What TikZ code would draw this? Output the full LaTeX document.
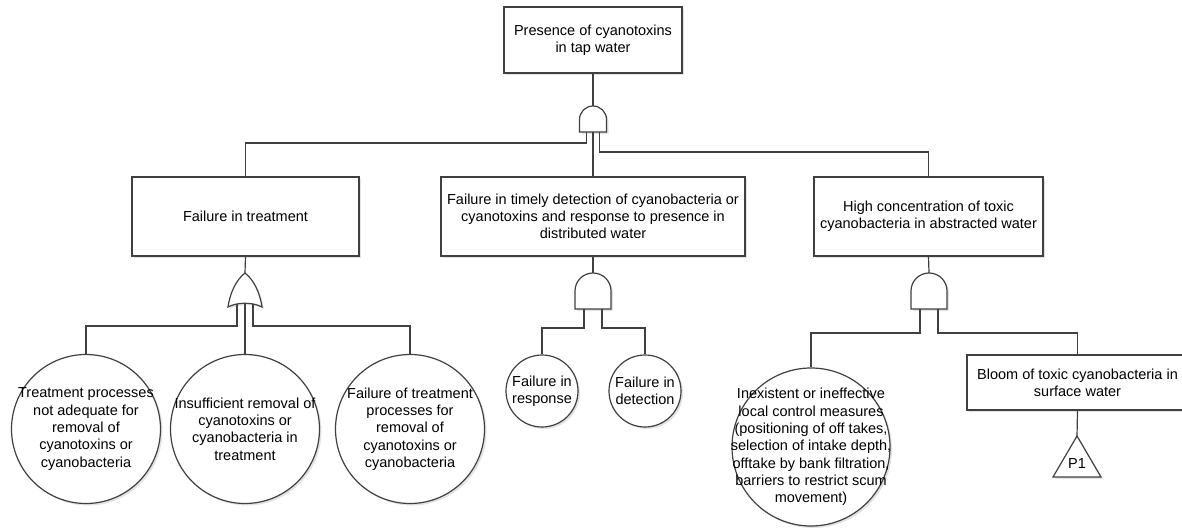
\documentclass[tikz,border=0pt]{standalone}
\usepackage{fontspec}
\setmainfont{Liberation Sans}
\usetikzlibrary{shadows}
\tikzset{
  ink/.style={draw=black!75, line width=1.2pt},
  shade/.style={drop shadow={shadow xshift=2pt, shadow yshift=-2pt, fill=black!18, opacity=0.6}},
  evbox/.style={ink, shade, fill=white, rectangle, inner sep=0pt, align=center,
    font=\fontsize{14.5}{17.3}\selectfont},
  evcircle/.style={ink, shade, fill=white, circle, inner sep=0pt},
  evtext/.style={align=center, inner sep=0pt, font=\fontsize{14.5}{17.3}\selectfont},
  wire/.style={draw=black!75, line width=1.2pt},
  % AND gate: origin at the middle of the flat base; #1 = half width, #2 = straight side height
  pics/andgate/.style 2 args={code={
    \path[ink, shade, fill=white] (-#1,0) -- (-#1,#2) arc[start angle=180, end angle=0, radius=#1 pt] -- (#1,0) -- cycle;
    \coordinate (-out) at (0,#1+#2);
    \coordinate (-l) at (-0.5*#1,0);
    \coordinate (-c) at (0,0);
    \coordinate (-r) at (0.5*#1,0);
  }},
  % OR gate: origin at the middle of the base line through the two corners
  pics/orgate/.style={code={
    \path[ink, shade, fill=white] (-17,0) .. controls (-15,14) and (-9,27) .. (0,34)
      .. controls (9,27) and (15,14) .. (17,0)
      .. controls (8,5) and (-8,5) .. (-17,0) -- cycle;
    \coordinate (-out) at (0,34);
    \coordinate (-l) at (-8,3.4);
    \coordinate (-c) at (0,3.8);
    \coordinate (-r) at (8,3.4);
  }}
}
\begin{document}
\begin{tikzpicture}[x=1pt, y=1pt]
\useasboundingbox (0,0) rectangle (1182,-529);

% top event
\node[evbox, minimum width=178pt, minimum height=66pt] (top) at (593,-40)
  {Presence of cyanotoxins\\in tap water};
\pic (g0) at (593,-132) {andgate={13.5}{12.5}};

% second level events
\node[evbox, minimum width=227pt, minimum height=79pt] (treat) at (245.5,-216.5)
  {Failure in treatment};
\node[evbox, minimum width=304pt, minimum height=79pt] (detect) at (593,-216.5)
  {Failure in timely detection of cyanobacteria or\\cyanotoxins and response to presence in\\distributed water};
\node[evbox, minimum width=229pt, minimum height=79pt] (conc) at (928.5,-216.5)
  {High concentration of toxic\\cyanobacteria in abstracted water};

\pic (g1) at (245,-307) {orgate};
\pic (g2) at (593,-309) {andgate={18}{18}};
\pic (g3) at (929,-309) {andgate={18}{18}};

% basic events under the treatment branch
\node[evcircle, minimum size=149pt] (c1) at (86,-429) {};
\node[evtext] (c1t) at (c1) {Treatment processes\\not adequate for\\removal of\\cyanotoxins or\\cyanobacteria};
\node[evcircle, minimum size=149pt] (c2) at (245,-429) {};
\node[evtext] (c2t) at (c2) {Insufficient removal of\\cyanotoxins or\\cyanobacteria in\\treatment};
\node[evcircle, minimum size=149pt] (c3) at (410,-429) {};
\node[evtext] (c3t) at (c3) {Failure of treatment\\processes for\\removal of\\cyanotoxins or\\cyanobacteria};

% basic events under the detection branch
\node[evcircle, minimum size=72pt] (c4) at (542,-391) {};
\node[evtext] (c4t) at (c4) {Failure in\\response};
\node[evcircle, minimum size=72pt] (c5) at (645,-391) {};
\node[evtext] (c5t) at (c5) {Failure in\\detection};

% events under the abstraction branch
\node[evcircle, minimum size=158pt] (c6) at (811,-447) {};
\node[evtext] (c6t) at (c6) {Inexistent or ineffective\\local control measures\\(positioning of off takes,\\selection of intake depth,\\offtake by bank filtration,\\barriers to restrict scum\\movement)};
\node[evbox, minimum width=221pt, minimum height=55pt] (bloom) at (1077.5,-382.5)
  {Bloom of toxic cyanobacteria in\\surface water};

% transfer symbol
\coordinate (p1top) at (1077,-436);
\path[ink, shade, fill=white] (p1top) -- (1101,-477) -- (1053,-477) -- cycle;
\node[evtext] (p1) at (1077,-464) {P1};

% connectors
\draw[wire] (top.south) -- (g0-out);
\draw[wire] (g0-l) -- ++(0,-11) -| (treat.north);
\draw[wire] (g0-c) -- (detect.north);
\draw[wire] (g0-r) -- ++(0,-20) -| (conc.north);

\draw[wire] (treat.south) -- (g1-out);
\draw[wire] (g1-l) -- ++(0,-22.4) -| (c1.north);
\draw[wire] (g1-c) -- (c2.north);
\draw[wire] (g1-r) -- ++(0,-22.4) -| (c3.north);

\draw[wire] (detect.south) -- (g2-out);
\draw[wire] (g2-l) -- ++(0,-19) -| (c4.north);
\draw[wire] (g2-r) -- ++(0,-19) -| (c5.north);

\draw[wire] (conc.south) -- (g3-out);
\draw[wire] (g3-l) -- ++(0,-24) -| (c6.north);
\draw[wire] (g3-r) -- ++(0,-24) -| (bloom.north);

\draw[wire] (bloom.south) -- (p1top);
\end{tikzpicture}
\end{document}
